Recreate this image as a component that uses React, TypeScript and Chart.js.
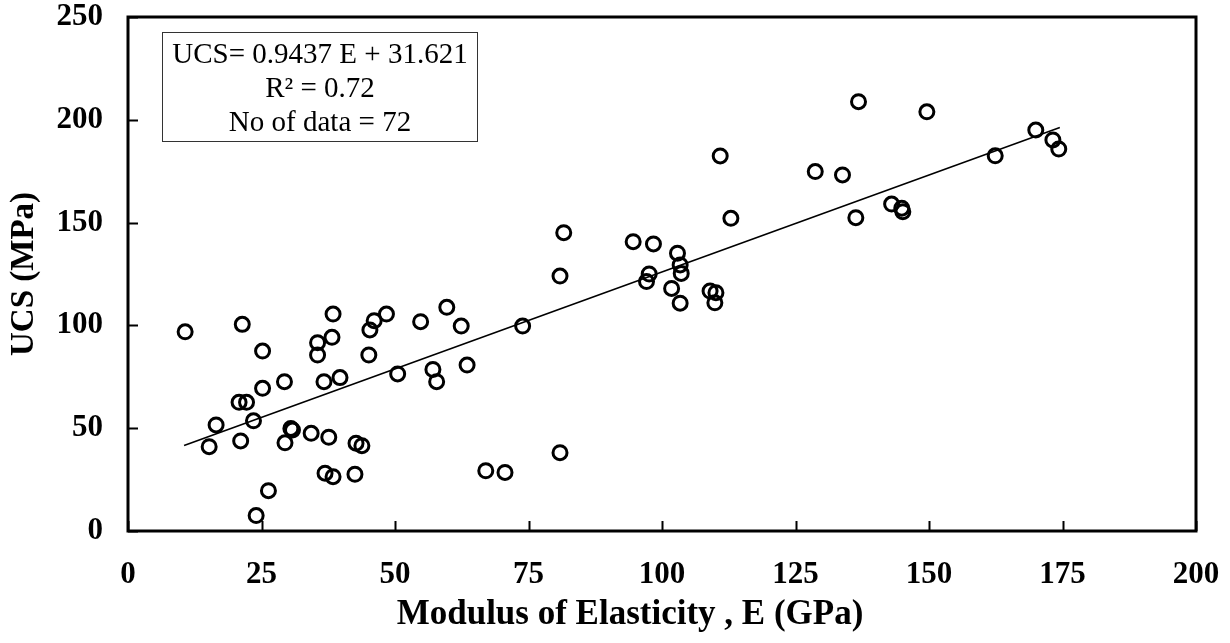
import React, { useEffect, useRef } from "react";
import { Chart, registerables } from "chart.js";

Chart.register(...registerables);

// Measured data: Modulus of Elasticity E (GPa) vs UCS (MPa)
const modulusE: number[] = [
  10.7, 21.4, 38.4, 46.1, 48.4, 54.8, 45.3, 35.5, 38.2, 25.2,
  35.5, 45.1, 50.5, 29.3, 36.7, 39.7, 25.2, 20.8, 22.2, 16.5,
  23.5, 15.2, 21.1, 29.4, 30.5, 30.8, 34.3, 37.6, 42.7, 43.8,
  36.9, 38.4, 42.5, 26.3, 24.0, 59.7, 62.4, 73.9, 57.1, 57.8,
  63.5, 67.0, 70.6, 80.9, 110.9, 112.9, 81.6, 94.6, 98.4, 102.9,
  103.4, 103.6, 80.9, 97.6, 97.1, 101.8, 103.4, 109.0, 110.1, 109.9,
  136.8, 149.6, 170.0, 173.2, 174.3, 162.4, 128.7, 133.8, 143.0, 144.9,
  145.1, 136.3,
];
const ucs: number[] = [
  96.9, 100.5, 105.5, 102.3, 105.5, 101.8, 97.8, 91.6, 94.2, 87.5,
  85.6, 85.6, 76.4, 72.6, 72.6, 74.6, 69.4, 62.6, 62.6, 51.6,
  53.6, 41.0, 43.8, 42.9, 49.9, 49.1, 47.5, 45.6, 42.7, 41.5,
  28.1, 26.4, 27.6, 19.6, 7.5, 108.8, 99.7, 99.7, 78.6, 72.6,
  80.7, 29.3, 28.5, 38.1, 182.4, 152.1, 145.1, 140.7, 139.6, 135.1,
  129.4, 125.3, 124.0, 125.0, 121.3, 118.0, 110.8, 116.7, 115.9, 111.0,
  208.8, 203.9, 195.0, 190.2, 185.8, 182.5, 174.8, 173.2, 159.0, 157.0,
  155.3, 152.4,
];

// Trend line end points (UCS = 0.9437 E + 31.621)
const trendE: number[] = [10.5, 174.5];
const trendUCS: number[] = [41.53, 196.30];

const xTicks: number[] = [0, 25, 50, 75, 100, 125, 150, 175, 200];
const yTicks: number[] = [0, 50, 100, 150, 200, 250];

const annotationLines: string[] = [
  "UCS= 0.9437 E + 31.621",
  "R² = 0.72",
  "No of data = 72",
];
const xTitle = "Modulus of Elasticity , E (GPa)";
const yTitle = "UCS (MPa)";

const SERIF = "'Liberation Serif', 'Times New Roman', serif";

export default function App() {
  const canvasRef = useRef<HTMLCanvasElement | null>(null);

  useEffect(() => {
    document.body.style.margin = "0";
    const canvas = canvasRef.current;
    if (!canvas) return;

    const scatterData = modulusE.map((e, i) => ({ x: e, y: ucs[i] }));
    const trendData = trendE.map((e, i) => ({ x: e, y: trendUCS[i] }));

    const framePlugin = {
      id: "framePlugin",
      afterDraw(chart: any) {
        const ctx = chart.ctx as CanvasRenderingContext2D;
        const { left, right, top, bottom } = chart.chartArea;
        const xs = chart.scales.x;
        const ys = chart.scales.y;
        ctx.save();
        // ticks inside
        ctx.strokeStyle = "#000";
        ctx.lineWidth = 2;
        ctx.beginPath();
        xTicks.forEach((v) => {
          const px = Math.round(xs.getPixelForValue(v)) + 0.5;
          ctx.moveTo(px, bottom);
          ctx.lineTo(px, bottom - 10);
        });
        yTicks.forEach((v) => {
          const py = Math.round(ys.getPixelForValue(v)) + 0.5;
          ctx.moveTo(left, py);
          ctx.lineTo(left + 10, py);
        });
        ctx.stroke();
        // frame
        ctx.lineWidth = 3;
        ctx.strokeRect(left, top, right - left, bottom - top);

        // annotation box
        ctx.lineWidth = 1;
        ctx.strokeStyle = "#333";
        ctx.fillStyle = "#fff";
        ctx.fillRect(162, 32, 315, 109);
        ctx.strokeRect(162.5, 32.5, 315, 109);
        ctx.fillStyle = "#000";
        ctx.font = `29px ${SERIF}`;
        ctx.textAlign = "center";
        ctx.textBaseline = "middle";
        annotationLines.forEach((t, i) => {
          ctx.fillText(t, 320, 55 + i * 34);
        });

        // axis titles
        ctx.font = `bold 35px ${SERIF}`;
        ctx.fillText(xTitle, 630, 615);
        ctx.font = `bold 33px ${SERIF}`;
        ctx.save();
        ctx.translate(24, (top + bottom) / 2);
        ctx.rotate(-Math.PI / 2);
        ctx.fillText(yTitle, 0, 0);
        ctx.restore();
        ctx.restore();
      },
    };

    const chart = new Chart(canvas, {
      type: "scatter",
      data: {
        datasets: [
          {
            label: "Data",
            data: scatterData,
            pointRadius: 7,
            pointBorderWidth: 3,
            pointBorderColor: "#000",
            pointBackgroundColor: "rgba(0,0,0,0)",
            showLine: false,
          },
          {
            label: "Trend",
            data: trendData,
            showLine: true,
            borderColor: "#000",
            borderWidth: 1.6,
            pointRadius: 0,
            fill: false,
          },
        ],
      },
      options: {
        animation: false,
        responsive: false,
        maintainAspectRatio: false,
        layout: { padding: { top: 17, right: 34, left: 0, bottom: 0 } },
        plugins: {
          legend: { display: false },
          tooltip: { enabled: false },
        },
        scales: {
          x: {
            type: "linear",
            min: 0,
            max: 200,
            afterFit: (s: any) => {
              s.height = 112;
              s.paddingLeft = 0;
              s.paddingRight = 0;
            },
            afterBuildTicks: (s: any) => {
              s.ticks = xTicks.map((v) => ({ value: v }));
            },
            grid: { display: false, drawTicks: false },
            border: { display: false },
            ticks: {
              color: "#000",
              padding: 25,
              font: { family: SERIF, size: 31, weight: "bold" },
              maxRotation: 0,
            },
          },
          y: {
            type: "linear",
            min: 0,
            max: 250,
            afterFit: (s: any) => {
              s.width = 128;
              s.paddingTop = 0;
              s.paddingBottom = 0;
            },
            afterBuildTicks: (s: any) => {
              s.ticks = yTicks.map((v) => ({ value: v }));
            },
            grid: { display: false, drawTicks: false },
            border: { display: false },
            ticks: {
              color: "#000",
              padding: 25,
              font: { family: SERIF, size: 31, weight: "bold" },
            },
          },
        },
      },
      plugins: [framePlugin],
    });

    return () => chart.destroy();
  }, []);

  return (
    <div style={{ width: 1230, height: 643, background: "#fff" }}>
      <canvas ref={canvasRef} width={1230} height={643} style={{ display: "block" }} />
    </div>
  );
}
